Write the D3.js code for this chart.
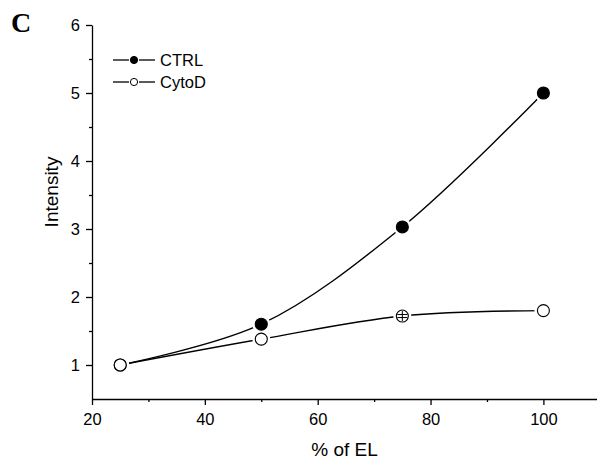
<!DOCTYPE html>
<html>
<head>
<meta charset="utf-8">
<script src="https://cdn.jsdelivr.net/npm/d3@7"></script>
<style>
  body { margin: 0; background: #fff; }
</style>
</head>
<body>
<svg id="chart" width="597" height="466"></svg>
<script>
// data
const elPercent = [25, 50, 75, 100];
const ctrlValues = [1.0, 1.6, 3.03, 5.0];
const cytoValues = [1.0, 1.38, 1.72, 1.8];
const xTicks = [20, 40, 60, 80, 100];
const yTicks = [1, 2, 3, 4, 5, 6];

const sans = '"Liberation Sans", Arial, sans-serif';
const svg = d3.select('#chart').style('font-family', sans);
const margin = {left: 92, top: 25, right: 0, bottom: 67};
const W = 597, H = 466;

const x = d3.scaleLinear().domain([20, 109.5]).range([margin.left, W - margin.right]);
const y = d3.scaleLinear().domain([0.5, 6]).range([H - margin.bottom, margin.top]);

// axes (major + minor ticks)
svg.append('g').attr('transform', `translate(0,${H - margin.bottom})`)
    .call(d3.axisBottom(x).tickValues(xTicks).tickFormat(d3.format('d'))
      .tickSize(6).tickSizeOuter(0).tickPadding(8));
svg.append('g').attr('transform', `translate(0,${H - margin.bottom})`)
    .call(d3.axisBottom(x).tickValues([30, 50, 70, 90]).tickSize(3).tickFormat('').tickSizeOuter(0))
    .call(g => g.select('.domain').remove());

svg.append('g').attr('transform', `translate(${margin.left},0)`)
    .call(d3.axisLeft(y).tickValues(yTicks).tickFormat(d3.format('d'))
      .tickSize(6).tickSizeOuter(0).tickPadding(6));
svg.append('g').attr('transform', `translate(${margin.left},0)`)
    .call(d3.axisLeft(y).tickValues([1.5, 2.5, 3.5, 4.5, 5.5]).tickSize(3).tickFormat(''))
    .call(g => g.select('.domain').remove());

svg.selectAll('.domain').attr('stroke', '#000').attr('stroke-width', 1.3);
svg.selectAll('.tick line').attr('stroke', '#000').attr('stroke-width', 1.3);
svg.selectAll('.tick text')
    .attr('font-size', null)
    .style('font-size', '16.5px')
    .style('font-family', sans)
    .attr('fill', '#000');

// curves
const line = d3.line()
    .x(d => x(d[0]))
    .y(d => y(d[1]))
    .curve(d3.curveCatmullRom.alpha(0.5));

const series = [
  {name: 'CTRL', values: ctrlValues, fill: '#000'},
  {name: 'CytoD', values: cytoValues, fill: '#fff'}
];

series.forEach(s => {
  svg.append('path')
      .datum(elPercent.map((e, i) => [e, s.values[i]]))
      .attr('fill', 'none')
      .attr('stroke', '#000')
      .attr('stroke-width', 1.4)
      .attr('d', line);
});

// white halo gives the gap between line and marker
series.forEach(s => {
  svg.append('g').selectAll('circle')
      .data(elPercent.map((e, i) => [e, s.values[i]]))
      .join('circle')
      .attr('cx', d => x(d[0]))
      .attr('cy', d => y(d[1]))
      .attr('r', 9)
      .attr('fill', '#fff');
});

series.forEach(s => {
  svg.append('g').selectAll('circle')
      .data(elPercent.map((e, i) => [e, s.values[i]]))
      .join('circle')
      .attr('cx', d => x(d[0]))
      .attr('cy', d => y(d[1]))
      .attr('r', 6)
      .attr('fill', s.fill)
      .attr('stroke', '#000')
      .attr('stroke-width', 1.1);
});

// small error bar inside the CytoD 75% marker
const eb = svg.append('g').attr('stroke', '#000').attr('stroke-width', 1);
const ex = x(75), ey = y(1.72);
eb.append('line').attr('x1', ex).attr('x2', ex).attr('y1', ey - 5).attr('y2', ey + 5);
eb.append('line').attr('x1', ex - 5).attr('x2', ex + 5).attr('y1', ey - 1.5).attr('y2', ey - 1.5);
eb.append('line').attr('x1', ex - 5).attr('x2', ex + 5).attr('y1', ey + 1.5).attr('y2', ey + 1.5);

// legend
const legend = svg.append('g').attr('transform', 'translate(113,60)');
series.forEach((s, i) => {
  const g = legend.append('g').attr('transform', `translate(0,${i * 22})`);
  g.append('line').attr('x1', 0).attr('x2', 16).attr('stroke', '#000').attr('stroke-width', 1.3);
  g.append('line').attr('x1', 26).attr('x2', 42).attr('stroke', '#000').attr('stroke-width', 1.3);
  g.append('circle').attr('cx', 21).attr('r', 3.6)
      .attr('fill', s.fill).attr('stroke', '#000').attr('stroke-width', 1);
  g.append('text').attr('x', 47).attr('y', 6).style('font-size', '16.5px').text(s.name);
});

// axis titles
svg.append('text')
    .attr('transform', 'translate(58,192) rotate(-90)')
    .attr('text-anchor', 'middle').style('font-size', '19px').text('Intensity');
svg.append('text')
    .attr('x', (margin.left + W) / 2).attr('y', 456)
    .attr('text-anchor', 'middle').style('font-size', '19px').text('% of EL');

// panel letter
svg.append('text')
    .attr('x', 11).attr('y', 31.5)
    .style('font-family', '"Liberation Serif", "Times New Roman", serif')
    .style('font-weight', 'bold').style('font-size', '28px').text('C');
</script>
</body>
</html>
